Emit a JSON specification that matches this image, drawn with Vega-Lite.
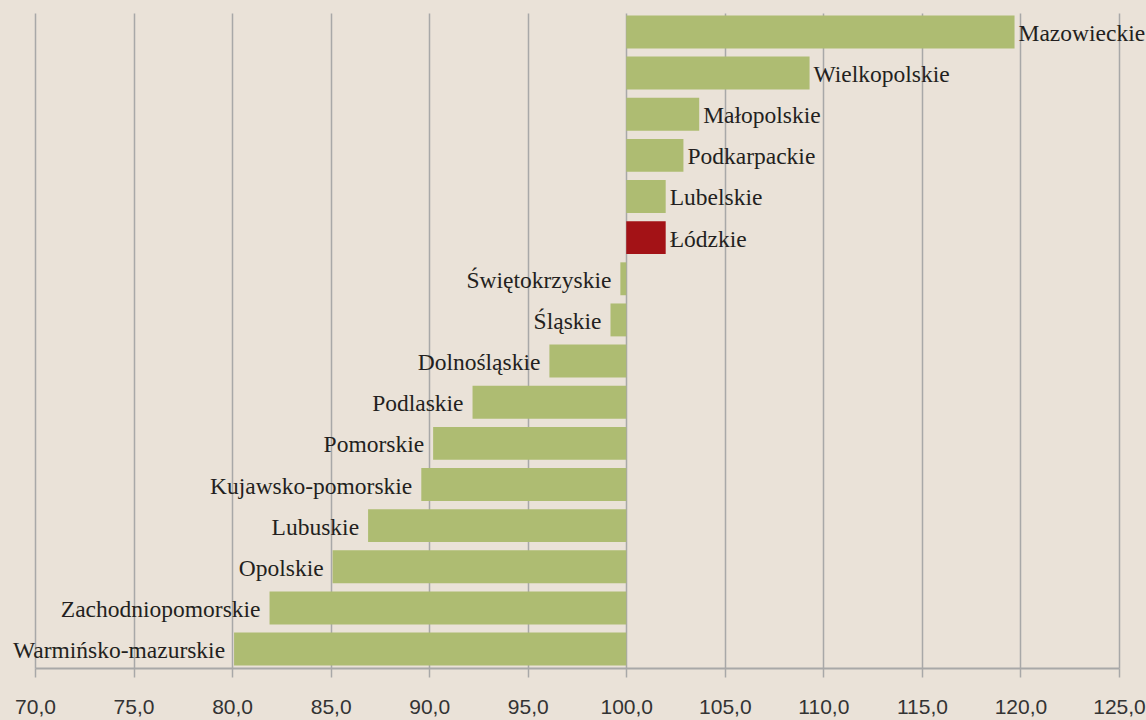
{
  "$schema": "https://vega.github.io/schema/vega-lite/v6.json",
  "width": 1084,
  "height": 655,
  "autosize": {"type": "none"},
  "padding": {"left": 35, "top": 13, "right": 27, "bottom": 52},
  "background": "#EAE2D8",
  "config": {"view": {"stroke": null}},
  "data": {
    "values": [
      {"region": "Mazowieckie", "value": 119.7},
      {"region": "Wielkopolskie", "value": 109.3},
      {"region": "Małopolskie", "value": 103.7},
      {"region": "Podkarpackie", "value": 102.9},
      {"region": "Lubelskie", "value": 102.0},
      {"region": "Łódzkie", "value": 102.0},
      {"region": "Świętokrzyskie", "value": 99.7},
      {"region": "Śląskie", "value": 99.2},
      {"region": "Dolnośląskie", "value": 96.1},
      {"region": "Podlaskie", "value": 92.2},
      {"region": "Pomorskie", "value": 90.2},
      {"region": "Kujawsko-pomorskie", "value": 89.6},
      {"region": "Lubuskie", "value": 86.9},
      {"region": "Opolskie", "value": 85.1},
      {"region": "Zachodniopomorskie", "value": 81.9},
      {"region": "Warmińsko-mazurskie", "value": 80.1}
    ]
  },
  "encoding": {
    "y": {
      "field": "region",
      "type": "nominal",
      "sort": null,
      "axis": null,
      "scale": {"paddingInner": 0.2, "paddingOuter": 0.06}
    },
    "x": {
      "field": "value",
      "type": "quantitative",
      "scale": {"domain": [70, 125], "nice": false, "zero": false},
      "axis": {
        "title": null,
        "values": [70, 75, 80, 85, 90, 95, 100, 105, 110, 115, 120, 125],
        "labelExpr": "replace(format(datum.value, '.1f'), '.', ',')",
        "grid": true,
        "gridColor": "#A8A8A8",
        "gridWidth": 1.5,
        "domainColor": "#A8A8A8",
        "domainWidth": 2,
        "tickColor": "#A8A8A8",
        "tickWidth": 1.5,
        "tickSize": 9,
        "labelFont": "Liberation Sans",
        "labelFontSize": 21,
        "labelColor": "#333333",
        "labelPadding": 19,
        "labelFlush": false
      }
    }
  },
  "layer": [
    {
      "mark": {"type": "bar"},
      "encoding": {
        "x2": {"datum": 100},
        "color": {
          "condition": {"test": "datum.region === 'Łódzkie'", "value": "#A31216"},
          "value": "#AEBC72"
        }
      }
    },
    {
      "transform": [{"filter": "datum.value > 100"}],
      "mark": {"type": "text", "align": "left", "baseline": "middle", "dx": 4, "dy": 2, "font": "Liberation Serif", "fontSize": 23.5, "color": "#231F20"},
      "encoding": {"text": {"field": "region"}}
    },
    {
      "transform": [{"filter": "datum.value < 100"}],
      "mark": {"type": "text", "align": "right", "baseline": "middle", "dx": -9, "dy": 2, "font": "Liberation Serif", "fontSize": 23.5, "color": "#231F20"},
      "encoding": {"text": {"field": "region"}}
    }
  ]
}
